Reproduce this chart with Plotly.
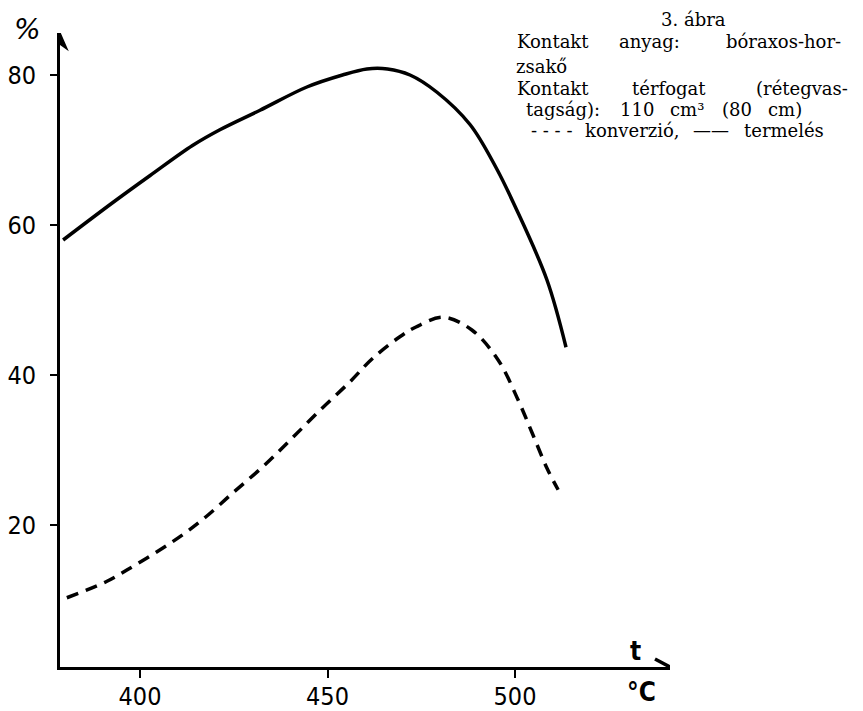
import plotly.graph_objects as go

# ---- data ----
t_termeles = [379.5, 392.5, 402.7, 414, 421.3, 432, 444.5, 454, 460.5, 466, 472, 479.2, 488, 495, 500, 508.5, 513.6]
v_termeles = [58, 62.9, 66.6, 70.6, 72.7, 75.3, 78.4, 80, 80.8, 80.8, 80.0, 77.7, 73.4, 67.6, 62.5, 52.7, 43.7]

t_konverzio = [380.5, 391.2, 396.5, 406, 412.5, 417.6, 424.8, 432.8, 440, 448, 456, 462, 469.3, 473.6, 480.8, 488.5, 495.5, 500.8, 504.8, 508.5, 511.5]
v_konverzio = [10.3, 12.5, 14, 16.9, 19.1, 21.1, 24.3, 27.8, 31.3, 35.3, 39.1, 42.2, 45.1, 46.4, 47.7, 46, 42, 36.7, 32, 27.6, 24.7]

x_ticks = [400, 450, 500]
y_ticks = [20, 40, 60, 80]

X_RANGE = [378.67, 541.33]
Y_RANGE = [1.067, 85.6]

W, H = 863, 711
PL, PR, PT, PB = 60, 670, 33, 667


def px(x):
    return (x - PL) / (PR - PL)


def py(y):
    return (PB - y) / (PB - PT)


fig = go.Figure()
fig.add_trace(go.Scatter(x=t_termeles, y=v_termeles, mode="lines",
                         line=dict(color="black", width=3.5, shape="spline", smoothing=1.0),
                         name="termelés", hoverinfo="skip"))
fig.add_trace(go.Scatter(x=t_konverzio, y=v_konverzio, mode="lines",
                         line=dict(color="black", width=3.5, dash="12px,8px", shape="spline", smoothing=1.0),
                         name="konverzió", hoverinfo="skip"))

tickfont = dict(family="DejaVu Sans Condensed, DejaVu Sans", size=25, color="black")

fig.update_layout(
    width=W, height=H,
    margin=dict(l=PL, r=W - PR, t=PT, b=H - PB, pad=0, autoexpand=False),
    paper_bgcolor="white", plot_bgcolor="white",
    showlegend=False,
    xaxis=dict(range=X_RANGE, tickvals=x_ticks, ticktext=[str(v) for v in x_ticks],
               showgrid=False, zeroline=False, showline=True, linecolor="black", linewidth=3,
               ticks="outside", ticklen=8, tickwidth=2, tickcolor="black",
               tickfont=tickfont, ticklabelstandoff=-3, automargin=False),
    yaxis=dict(range=Y_RANGE, tickvals=y_ticks, ticktext=[str(v) for v in y_ticks],
               showgrid=False, zeroline=False, showline=True, linecolor="black", linewidth=3,
               ticks="outside", ticklen=7, tickwidth=2, tickcolor="black",
               tickfont=tickfont, ticklabelstandoff=9, automargin=False),
)

# axis arrowheads
fig.add_shape(type="path", xref="x", yref="y", xsizemode="pixel", ysizemode="pixel",
              xanchor=X_RANGE[0], yanchor=Y_RANGE[1],
              path="M -7,-16 L 0,0 L 7,-16 L 0,-11 Z",
              fillcolor="black", line=dict(color="black", width=1.5))
fig.add_shape(type="path", xref="x", yref="y", xsizemode="pixel", ysizemode="pixel",
              xanchor=X_RANGE[1], yanchor=Y_RANGE[0],
              path="M -15,8 L 0,0 L -15,-8",
              line=dict(color="black", width=3.5))

annots = []
# axis labels
annots.append(dict(text="<i>%</i>", x=px(27), y=py(29),
                   font=dict(family="DejaVu Sans", size=28, color="black")))
annots.append(dict(text="<b>t</b>", x=px(635), y=py(651),
                   font=dict(family="DejaVu Sans Condensed, DejaVu Sans", size=26, color="black")))
annots.append(dict(text="<b>°C</b>", x=px(641), y=py(692),
                   font=dict(family="DejaVu Sans Condensed, DejaVu Sans", size=26, color="black")))

# caption block (word positions to mimic justified typesetting)
serif = dict(family="DejaVu Serif", size=18, color="black")
caption = [
    ("3. ábra", 693, 20),
    ("Kontakt", 553, 41), ("anyag:", 649.5, 41), ("bóraxos-hor-", 783.5, 41),
    ("zsakő", 541, 66),
    ("Kontakt", 553, 88), ("térfogat", 669, 88), ("(rétegvas-", 801.5, 88),
    ("tagság):", 563, 109), ("110", 636.5, 109), ("cm³", 687, 109), ("(80", 736.5, 109), ("cm)", 785, 109),
    ("- - - -", 551.5, 130), ("konverzió,", 632.5, 130), ("——", 710.5, 130), ("termelés", 784, 130),
]
for txt, cx, cy in caption:
    annots.append(dict(text=txt, x=px(cx), y=py(cy), font=serif, borderpad=0))

for a in annots:
    a.update(xref="paper", yref="paper", xanchor="center", yanchor="middle", showarrow=False)

fig.update_layout(annotations=annots)
fig.write_html("out.html", config={"displayModeBar": False},
               post_script="document.body.style.margin='0';")
